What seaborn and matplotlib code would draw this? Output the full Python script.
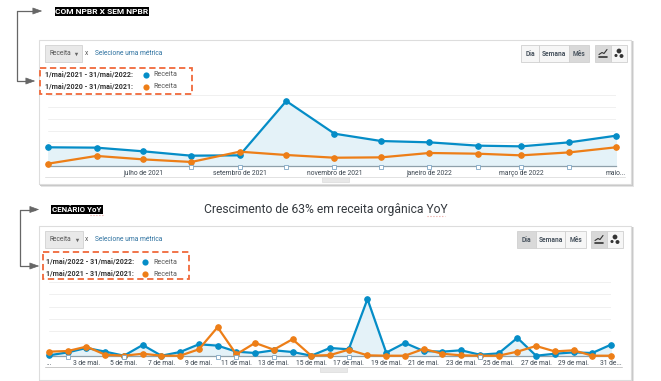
import numpy as np
import pandas as pd
from matplotlib import pyplot as plt
from matplotlib.patches import Rectangle
import seaborn as sns

sns.set_theme(style='white')
plt.rcParams['font.family'] = ['Roboto', 'DejaVu Sans']

W, H = 661, 381
BLUE = '#058dc7'
ORANGE = '#ed7e17'
TXT = '#3c4650'

# Data, top chart (monthly)
top_months = pd.date_range('2021-05-01', '2022-05-01', freq='MS')
top_blue = [15.8, 15.5, 12.4, 8.7, 9.0, 54.9, 27.3, 21.1, 20.0, 17.2, 16.6, 20.0, 25.6]
top_orange = [2.0, 8.5, 5.6, 3.4, 12.1, 9.3, 7.0, 7.3, 11.0, 10.4, 9.0, 11.5, 15.8]
top_ticks = ['2021-07-01', '2021-09-01', '2021-11-01', '2022-01-01', '2022-03-01', '2022-05-01']
top_ticklabels = ['julho de 2021', 'setembro de 2021', 'novembro de 2021',
                  'janeiro de 2022', 'março de 2022', 'maio...']
top_notes = ['2021-08-01', '2021-09-01', '2021-10-01', '2021-11-01', '2021-12-01', '2022-01-01',
             '2022-02-01', '2022-03-01', '2022-04-01']

# Data, bottom chart (daily)
bot_days = pd.date_range('2022-05-01', '2022-05-31', freq='D')
bot_blue = [0.3, 2.7, 6.3, 3.3, 0, 8.7, 0, 3.0, 9.3, 8.2, 3.3, 2.2, 4.4, 3.0, 0, 6.3,
            5.2, 46.1, 2.5, 10.4, 3.8, 3.3, 4.4, 0.8, 1.9, 14.5, 0, 1.6, 2.7, 2.2, 9.0]
bot_orange = [3.3, 3.8, 7.4, 0.8, 0, 1.6, 0, 0, 5.2, 23.2, 1.1, 10.4, 4.9, 13.4, 0, 0.5,
              4.9, 0.3, 0, 0, 5.5, 1.6, 0.3, 0, 0, 3.3, 7.9, 3.5, 4.4, 0, 0]
bot_ticks = [1, 3, 5, 7, 9, 11, 13, 15, 17, 19, 21, 23, 25, 27, 29, 31]
bot_ticklabels = ['...', '3 de mai.', '5 de mai.', '7 de mai.', '9 de mai.', '11 de mai.',
                  '13 de mai.', '15 de mai.', '17 de mai.', '19 de mai.', '21 de mai.',
                  '23 de mai.', '25 de mai.', '27 de mai.', '29 de mai.', '31 de...']
bot_notes = [2, 5, 10, 11, 13, 17, 24]

fig = plt.figure(figsize=(W / 100, H / 100), dpi=100, facecolor='white')

# Overlay in pixel coordinates for the card furniture
bg = fig.add_axes([0, 0, 1, 1])
bg.set_xlim(0, W)
bg.set_ylim(H, 0)
bg.axis('off')


def box(x0, y0, x1, y1, **kw):
    bg.add_patch(Rectangle((x0, y0), x1 - x0, y1 - y0, **kw))


def card(x0, y0, x1, y1):
    for off, col in [(3, '#e4e4e4'), (2, '#c8c8c8'), (1, '#a8a8a8')]:
        box(x0 + off - 1, y0 + 1, x1 + off, y1 + off, fc=col, ec='none', zorder=1)
    box(x0, y0, x1, y1, fc='white', ec='#dddddd', lw=0.8, zorder=2)


def buttons(x0, y0, y1, splits, active, icon_x):
    names = ['Dia', 'Semana', 'Mês']
    for i, name in enumerate(names):
        a, b = splits[i], splits[i + 1]
        box(a, y0, b, y1, fc='#d9d9d9' if i == active else '#f6f6f6', ec='#d0d0d0', lw=0.6, zorder=3)
        bg.text((a + b) / 2, (y0 + y1) / 2, name, fontsize=4.8, fontweight='bold', color='#4a5560',
                ha='center', va='center', zorder=4)
    box(icon_x[0], y0, icon_x[1], y1, fc='#d9d9d9', ec='#d0d0d0', lw=0.6, zorder=3)
    box(icon_x[1], y0, icon_x[2], y1, fc='#f6f6f6', ec='#d0d0d0', lw=0.6, zorder=3)
    # icones
    c1 = (icon_x[0] + icon_x[1]) / 2
    c2 = (icon_x[1] + icon_x[2]) / 2
    ym = (y0 + y1) / 2
    bg.plot([c1 - 4, c1 - 1, c1 + 1, c1 + 4], [ym + 1, ym - 1, ym, ym - 4], color='#333333', lw=0.8, zorder=4)
    bg.plot([c1 - 4, c1 + 4], [ym + 3.5, ym + 3.5], color='#333333', lw=1.2, zorder=4)
    bg.scatter([c2 - 3, c2, c2 + 2.5], [ym + 2, ym - 2.5, ym + 2.5], s=[5, 12, 8], color='#333333', zorder=4, lw=0)


def header(x0, y0, y1, drop_right, x_x, sel_x):
    box(x0, y0, drop_right, y1, fc='#e9e9e9', ec='#d2d2d2', lw=0.6, zorder=3)
    bg.text(x0 + 4, (y0 + y1) / 2, 'Receita', fontsize=4.8, color='#555555', va='center', zorder=4)
    bg.scatter([drop_right - 6], [(y0 + y1) / 2], marker='v', s=6, color='#666666', lw=0, zorder=4)
    bg.text(x_x, (y0 + y1) / 2, 'x', fontsize=4.8, color='#555555', va='center', zorder=4)
    bg.text(sel_x, (y0 + y1) / 2, 'Selecione uma métrica', fontsize=4.8, color='#2a6f9e', va='center', zorder=4)


def legend(tx, dot_x, lab_x, y1, y2, l1, l2):
    for y, lab, col in [(y1, l1, BLUE), (y2, l2, ORANGE)]:
        bg.text(tx, y, lab, fontsize=5.15, fontweight='bold', color='#333333', va='center', zorder=4)
        bg.scatter([dot_x], [y], s=20, color=col, lw=0, zorder=4)
        bg.text(lab_x, y + 0.5, 'Receita', fontsize=5.1, color='#555555', va='center', zorder=4)


def arrow(points, tip):
    xs, ys = zip(*points)
    bg.plot(xs, ys, color='#666666', lw=0.9, zorder=5)
    bg.annotate('', xy=tip, xytext=(tip[0] - 9, tip[1]), zorder=5,
                arrowprops=dict(arrowstyle='-|>,head_width=0.18,head_length=0.5', color='#666666', lw=0.5))


def chart(left, right, ytop, ybase, x, blue, orange, ticks, ticklabels, notes, xlim):
    ax = fig.add_axes([left / W, 1 - ybase / H, (right - left) / W, (ybase - ytop) / H])
    ax.patch.set_alpha(0)
    df = pd.DataFrame({'x': x, 'blue': blue, 'orange': orange})
    ax.fill_between(df['x'], df['blue'], 0, color='#e4f2f8', zorder=1)
    sns.lineplot(data=df, x='x', y='blue', ax=ax, color=BLUE, lw=1.6, marker='o', ms=4,
                 mec=BLUE, clip_on=False, zorder=3)
    sns.lineplot(data=df, x='x', y='orange', ax=ax, color=ORANGE, lw=1.6, marker='o', ms=4,
                 mec=ORANGE, clip_on=False, zorder=4)
    ax.set_xlim(*xlim)
    ax.set_ylim(0, 60)
    ax.set_yticks([10, 20, 30, 40, 50, 60])
    ax.set_yticklabels([])
    ax.yaxis.grid(True, color='#f0f0f0', lw=0.7)
    ax.set_axisbelow(True)
    ax.set_xticks(ticks)
    ax.set_xticklabels(ticklabels, fontsize=4.9, color=TXT)
    ax.tick_params(axis='x', length=0, pad=3)
    ax.tick_params(axis='y', length=0)
    ax.set_xlabel('')
    ax.set_ylabel('')
    for s in ['top', 'left', 'right']:
        ax.spines[s].set_visible(False)
    ax.spines['bottom'].set_color('#8fa0aa')
    ax.spines['bottom'].set_linewidth(0.9)
    ax.plot(notes, [-0.8] * len(notes), ls='none', marker='s', ms=3, mfc='white', mec='#7fa6c4',
            mew=0.6, clip_on=False, zorder=5)
    return ax


# Top card
card(39, 40, 631, 184)
header(45, 45, 62, 82, 85, 95)
buttons(521, 45, 62, [521, 539, 569, 589], 2, [595, 611, 627])
legend(45, 146, 153, 74.5, 86.5, '1/mai/2021 - 31/mai/2022:', '1/mai/2020 - 31/mai/2021:')
box(40, 68, 192, 94, fc='none', ec='#f0693a', lw=1.3, ls=(0, (3.5, 2)), zorder=5)
bg.plot([45, 625], [177, 177], color='#e2e2e2', lw=0.7, zorder=3)
box(322, 177, 349, 182, fc='#e8e8e8', ec='#d5d5d5', lw=0.4, zorder=3)
chart(48.3, 616, 95, 166, top_months, top_blue, top_orange, pd.to_datetime(top_ticks), top_ticklabels,
      pd.to_datetime(top_notes), (top_months[0], top_months[-1]))

# Bottom card
card(39, 226, 631, 380)
header(45, 231, 248, 83, 85, 95)
buttons(517, 231, 248, [517, 536, 565, 586], 0, [591, 607, 623])
legend(46, 145, 153, 262, 273.5, '1/mai/2022 - 31/mai/2022:', '1/mai/2021 - 31/mai/2021:')
box(43, 252, 189, 279, fc='none', ec='#f0693a', lw=1.3, ls=(0, (3.5, 2)), zorder=5)
bg.plot([45, 622], [367, 367], color='#c9c9c9', lw=0.7, zorder=3)
box(320, 367, 347, 372, fc='#e8e8e8', ec='#d5d5d5', lw=0.4, zorder=3)
chart(49, 611, 282, 355.7, bot_days, bot_blue, bot_orange,
      pd.Timestamp('2022-05-01') + pd.to_timedelta(np.array(bot_ticks) - 1, unit='D'), bot_ticklabels,
      pd.Timestamp('2022-05-01') + pd.to_timedelta(np.array(bot_notes) - 1, unit='D'),
      (bot_days[0], bot_days[-1]))

# Setas e rotulos
arrow([(17, 11), (38, 11)], (45, 11))
arrow([(17, 11), (17, 81), (31, 81)], (38, 81))
arrow([(20, 209.5), (35, 209.5)], (42, 209.5))
arrow([(20, 209.5), (20, 266), (35, 266)], (42, 266))

box(55, 6.5, 149, 15.5, fc='black', ec='none', zorder=5)
bg.text(102, 11, 'COM NPBR X SEM NPBR', fontsize=6.0, fontweight='bold', color='white',
        ha='center', va='center', zorder=6)
box(51, 205, 103, 214, fc='black', ec='none', zorder=5)
bg.text(77, 209.5, 'CENÁRIO YoY', fontsize=5.7, fontweight='bold', color='white',
        ha='center', va='center', zorder=6)
bg.text(325.5, 210, 'Crescimento de 63% em receita orgânica YoY', fontsize=8.7, color='#33383d',
        ha='center', va='center', zorder=6)
bg.plot([427, 445], [216, 216], color='#e8a09a', lw=0.8, ls=':', zorder=6)
bg.plot([90, 103], [214.5, 214.5], color='#e8a09a', lw=0.8, ls=':', zorder=6)

fig.savefig('out.png', dpi=100)
